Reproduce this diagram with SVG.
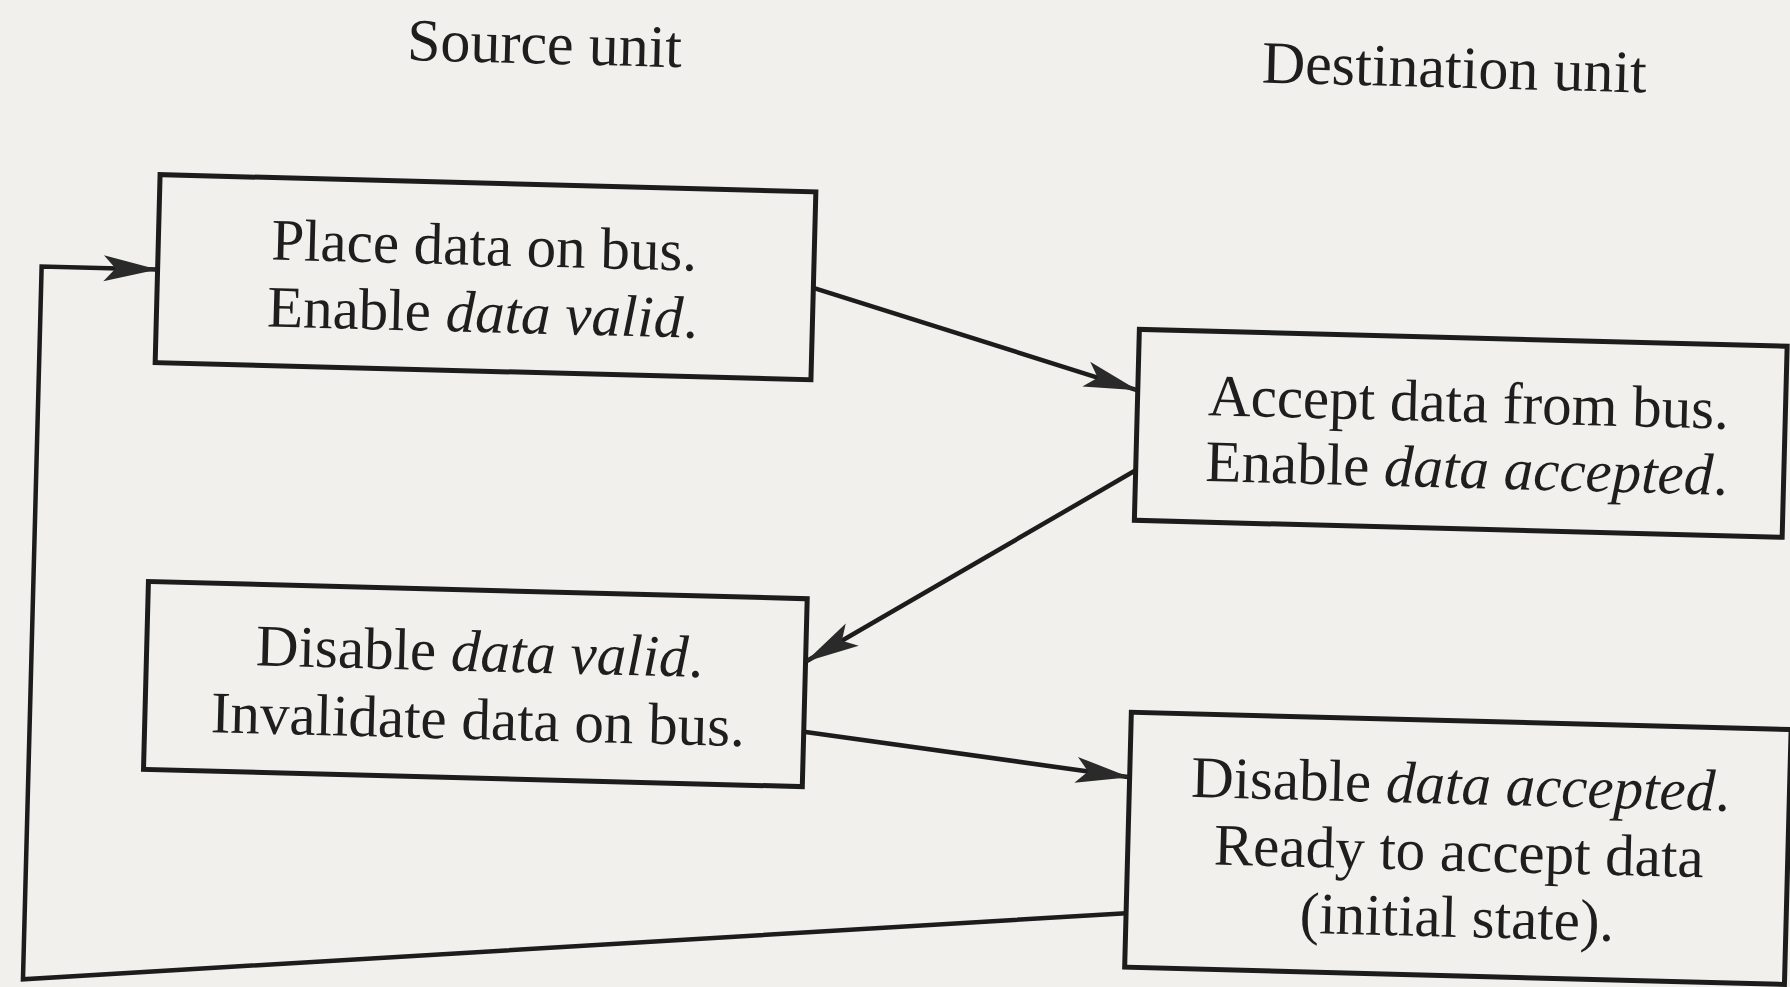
<svg xmlns="http://www.w3.org/2000/svg" width="1790" height="987" viewBox="0 0 1790 987">
  <style>
    .box { fill: none; stroke: #1c1c1c; stroke-width: 5; }
    .txt { font-family: "Liberation Serif", "Times New Roman", serif; font-size: 59px; fill: #1e1e1e; text-anchor: middle; }
    .ttl { font-family: "Liberation Serif", "Times New Roman", serif; font-size: 60px; fill: #1e1e1e; text-anchor: middle; }
    .it { font-style: italic; }
    .conn { fill: none; stroke: #1c1c1c; stroke-width: 4.5; stroke-linejoin: miter; }
  </style>
  <defs>
    <marker id="arr" markerUnits="userSpaceOnUse" viewBox="-56 -16 58 32" markerWidth="58" markerHeight="32" refX="0" refY="0" orient="auto">
      <path d="M0,0 L-54,-13 L-42,0 L-54,13 Z" fill="#2a2a2a"/>
    </marker>
  </defs>
  <rect x="0" y="0" width="1790" height="987" fill="#f1f0ec"/>
  <g transform="rotate(1.5 895 493)">
    <g id="title-source">
      <text class="ttl" x="533" y="73">Source unit</text>
    </g>
    <g id="title-destination">
      <text class="ttl" x="1443" y="73">Destination unit</text>
    </g>
    <g id="node-place">
      <rect class="box" x="152" y="194" width="656" height="188"/>
      <text class="txt" x="478" y="276">Place data on bus.</text>
      <text class="txt" x="478" y="343">Enable <tspan class="it">data valid</tspan>.</text>
    </g>
    <g id="node-accept">
      <rect class="box" x="1135" y="323" width="648" height="191"/>
      <text class="txt" x="1466" y="407">Accept data from bus.</text>
      <text class="txt" x="1466" y="473">Enable <tspan class="it">data accepted</tspan>.</text>
    </g>
    <g id="node-disable-valid">
      <rect class="box" x="151" y="601" width="659" height="188"/>
      <text class="txt" x="484" y="682">Disable <tspan class="it">data valid</tspan>.</text>
      <text class="txt" x="484" y="750">Invalidate data on bus.</text>
    </g>
    <g id="node-disable-accepted">
      <rect class="box" x="1137" y="706" width="660" height="255"/>
      <text class="txt" x="1468" y="789">Disable <tspan class="it">data accepted</tspan>.</text>
      <text class="txt" x="1468" y="856">Ready to accept data</text>
      <text class="txt" x="1468" y="922">(initial state).</text>
    </g>
    <g id="connectors">
      <path class="conn" d="M808,290 L1135,384" marker-end="url(#arr)"/>
      <path class="conn" d="M1135,464 L810,664" marker-end="url(#arr)"/>
      <path class="conn" d="M810,734 L1137,771" marker-end="url(#arr)"/>
      <path class="conn" d="M1137,907 L36,1002 L36,289 L152,289" marker-end="url(#arr)"/>
    </g>
  </g>
</svg>
